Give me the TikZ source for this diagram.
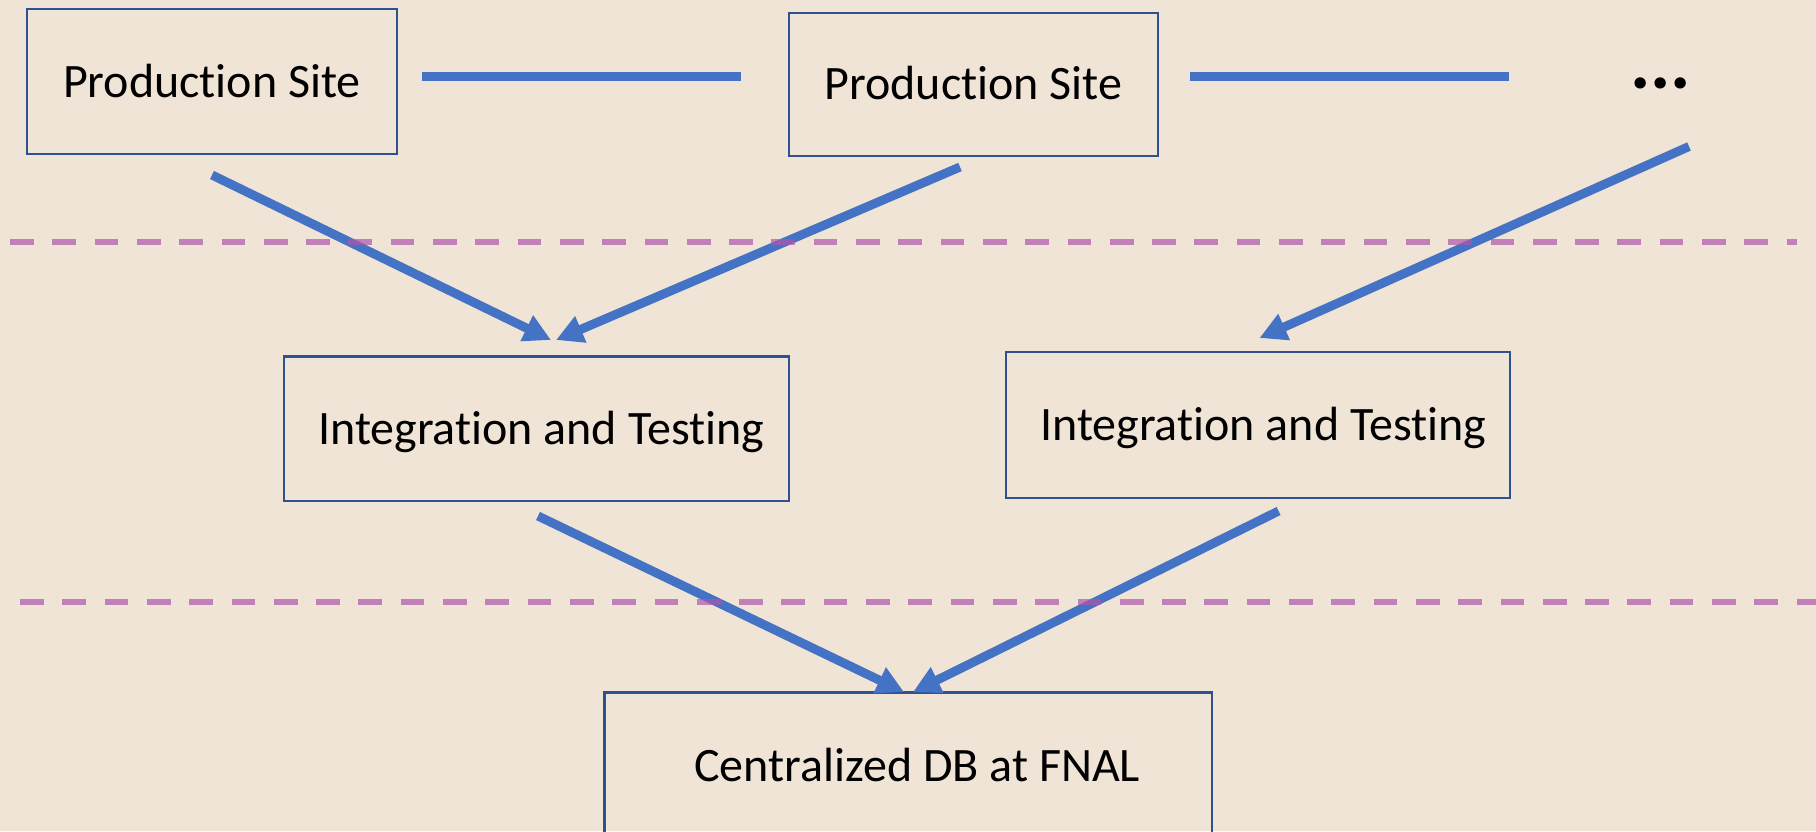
\documentclass[tikz,border=0pt]{standalone}
\usepackage{fontspec}
\setmainfont{Carlito}[Ligatures={NoCommon,NoDiscretionary}]
\usetikzlibrary{arrows.meta}
\definecolor{bgc}{RGB}{239,228,213}
\definecolor{boxc}{RGB}{47,82,143}
\definecolor{arrc}{RGB}{68,114,196}
\definecolor{dashc}{RGB}{175,86,172}
\begin{document}
\begin{tikzpicture}[x=0.5pt,y=-0.5pt,
  stagebox/.style={draw=boxc,line width=1.1pt,rectangle,inner sep=0pt,
    font=\fontsize{24pt}{28pt}\selectfont,text height=15.4pt,text depth=0pt},
  flow/.style={draw=arrc,line width=4.5pt,-{Triangle[length=13.5pt,width=13.5pt]}},
  link/.style={draw=arrc,line width=4.5pt},
  divider/.style={draw=dashc,draw opacity=0.7,line width=3pt,dash pattern=on 11.85pt off 9.3pt}]
\fill[bgc] (0,0) rectangle (1816,831);
\clip (0,0) rectangle (1816,831);

\node[stagebox,minimum width=185pt,minimum height=72.5pt] (ps1) at (212,81.6) {Production Site};
\node[stagebox,minimum width=184.75pt,minimum height=71.85pt] (ps2) at (973.4,84.5) {Production Site};
\node[anchor=base,inner sep=0pt,font=\fontsize{38pt}{40pt}\selectfont\bfseries] (more) at (1660.5,88) {...};
\node[stagebox,minimum width=252.5pt,minimum height=72.25pt] (it1) at (536.2,428.8) {\hspace*{5pt}Integration and Testing};
\node[stagebox,minimum width=252pt,minimum height=72.85pt] (it2) at (1258.3,425.2) {\hspace*{5pt}Integration and Testing};
\node[stagebox,minimum width=303.75pt,minimum height=74pt] (db) at (908.2,766.5) {\hspace*{9pt}Centralized DB at FNAL};

% horizontal links between sites
\coordinate (l1a) at (421.6,76.4);
\coordinate (l1b) at (741,76.4);
\coordinate (l2a) at (1189.5,76.4);
\coordinate (l2b) at (1509,76.4);
\draw[link] (l1a) -- (l1b);
\draw[link] (l2a) -- (l2b);

% arrow end points
\coordinate (a1s) at (212,175);
\coordinate (a1e) at (551,340);
\coordinate (a2s) at (960,167);
\coordinate (a2e) at (556,340);
\coordinate (a3s) at (1689,146.5);
\coordinate (a3e) at (1259.5,338);
\coordinate (a4s) at (538,516);
\coordinate (a4e) at (904,692);
\coordinate (a5s) at (1278.6,511);
\coordinate (a5e) at (913,692);
\draw[flow] (a1s) -- (a1e);
\draw[flow] (a2s) -- (a2e);
\draw[flow] (a3s) -- (a3e);
\draw[flow] (a4s) -- (a4e);
\draw[flow] (a5s) -- (a5e);

% dashed dividers
\coordinate (d1a) at (10,242);
\coordinate (d1b) at (1797,242);
\coordinate (d2a) at (20,602);
\coordinate (d2b) at (1816,602);
\draw[divider] (d1a) -- (d1b);
\draw[divider] (d2a) -- (d2b);
\end{tikzpicture}
\end{document}
